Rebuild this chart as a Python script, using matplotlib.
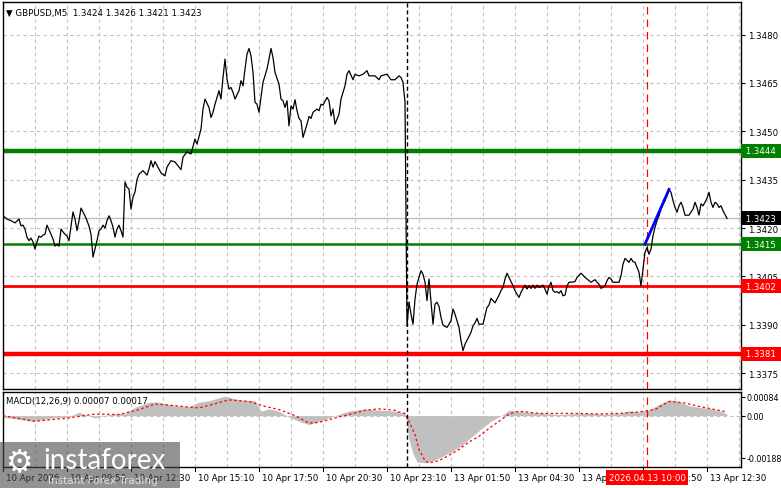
import matplotlib
matplotlib.use("Agg")
import matplotlib.pyplot as plt
import matplotlib.transforms as mtransforms
from matplotlib.patches import Rectangle

plt.rcParams['font.family'] = ['DejaVu Sans']

# M5 bars, counted from 10 Apr 07:10 (bar 0)
bars = [0, 2, 4, 6, 8, 9, 10, 11, 12, 13, 14, 15, 16, 17, 18, 19, 20, 21, 22, 24,
        25, 26, 27, 28, 29, 30, 31, 32, 33, 34, 35, 36, 37, 38, 39, 40, 41, 42, 43, 44,
        45, 46, 47, 48, 49, 50, 51, 52, 53, 54, 55, 56, 57, 58, 59, 60, 61, 62, 63, 64,
        65, 66, 67, 68, 70, 72, 73, 74, 75, 76, 78, 79, 81, 82, 84, 86, 88, 89, 90, 92,
        94, 96, 97, 99, 100, 101, 103, 104, 105, 106, 108, 109, 110, 111, 112, 113, 114, 115, 116, 118,
        119, 120, 121, 122, 123, 124, 125, 126, 127, 128, 129, 130, 132, 133, 134, 135, 136, 138, 139, 140,
        141, 142, 143, 144, 145, 146, 147, 148, 149, 150, 152, 153, 154, 155, 157, 158, 159, 160, 162, 163,
        164, 165, 166, 168, 169, 171, 172, 173, 175, 176, 178, 180, 182, 183, 186, 188, 189, 192, 194, 196,
        198, 199, 200, 201, 202, 203, 204, 205, 206, 207, 208, 209, 210, 211, 212, 213, 214, 215, 216, 217,
        218, 219, 220, 222, 223, 224, 225, 226, 228, 229, 230, 231, 233, 234, 235, 236, 237, 238, 240, 241,
        242, 243, 244, 246, 247, 248, 249, 250, 251, 252, 253, 255, 256, 257, 258, 259, 261, 262, 263, 264,
        265, 266, 267, 268, 270, 271, 272, 273, 274, 275, 276, 277, 278, 279, 280, 281, 282, 283, 284, 286,
        287, 289, 290, 291, 293, 294, 296, 297, 298, 299, 301, 302, 303, 304, 305, 306, 308, 309, 310, 311,
        313, 314, 315, 316, 318, 319, 320, 321, 322, 323, 324, 325, 326, 327, 328, 329, 330, 331, 332, 333,
        334, 335, 336, 337, 338, 339, 340, 341, 342, 343, 345, 346, 347, 348, 349, 350, 351, 352, 353, 354,
        355, 356, 357, 358, 359, 360, 362]
close = [1.34238, 1.34228, 1.34223, 1.34216, 1.34228, 1.34207, 1.34209, 1.34197, 1.34172, 1.34161,
         1.34169, 1.34157, 1.34135, 1.34157, 1.34175, 1.34172, 1.34178, 1.34181, 1.34209, 1.34181,
         1.34166, 1.34144, 1.34150, 1.34144, 1.34197, 1.34188, 1.34181, 1.34175, 1.34161, 1.34206,
         1.34250, 1.34228, 1.34192, 1.34223, 1.34262, 1.34250, 1.34238, 1.34223, 1.34206, 1.34181,
         1.34110, 1.34135, 1.34161, 1.34192, 1.34197, 1.34209, 1.34200, 1.34223, 1.34238, 1.34223,
         1.34203, 1.34172, 1.34197, 1.34209, 1.34192, 1.34172, 1.34343, 1.34327, 1.34321, 1.34259,
         1.34296, 1.34312, 1.34350, 1.34367, 1.34378, 1.34364, 1.34383, 1.34409, 1.34389, 1.34406,
         1.34383, 1.34371, 1.34362, 1.34389, 1.34409, 1.34405, 1.34389, 1.34381, 1.34420, 1.34436,
         1.34430, 1.34476, 1.34460, 1.34507, 1.34569, 1.34600, 1.34574, 1.34543, 1.34559, 1.34584,
         1.34626, 1.34600, 1.34667, 1.34724, 1.34662, 1.34631, 1.34636, 1.34621, 1.34600, 1.34626,
         1.34657, 1.34641, 1.34693, 1.34739, 1.34757, 1.34734, 1.34683, 1.34590, 1.34584, 1.34559,
         1.34605, 1.34652, 1.34693, 1.34724, 1.34757, 1.34729, 1.34683, 1.34646, 1.34600, 1.34595,
         1.34574, 1.34595, 1.34517, 1.34579, 1.34569, 1.34598, 1.34564, 1.34540, 1.34533, 1.34481,
         1.34522, 1.34546, 1.34540, 1.34559, 1.34569, 1.34564, 1.34584, 1.34581, 1.34605, 1.34595,
         1.34548, 1.34569, 1.34522, 1.34553, 1.34600, 1.34641, 1.34677, 1.34688, 1.34660, 1.34677,
         1.34672, 1.34677, 1.34688, 1.34672, 1.34672, 1.34660, 1.34672, 1.34677, 1.34660, 1.34660,
         1.34672, 1.34667, 1.34652, 1.34590, 1.33897, 1.33971, 1.33933, 1.33902, 1.33980, 1.34026,
         1.34047, 1.34068, 1.34057, 1.34032, 1.33975, 1.34042, 1.33970, 1.33902, 1.33964, 1.33970,
         1.33957, 1.33923, 1.33899, 1.33892, 1.33902, 1.33913, 1.33949, 1.33933, 1.33892, 1.33851,
         1.33820, 1.33840, 1.33864, 1.33877, 1.33897, 1.33906, 1.33920, 1.33902, 1.33902, 1.33928,
         1.33954, 1.33961, 1.33982, 1.33968, 1.33980, 1.33992, 1.34006, 1.34016, 1.34042, 1.34060,
         1.34047, 1.34021, 1.34006, 1.33995, 1.33985, 1.34001, 1.34023, 1.34011, 1.34021, 1.34013,
         1.34023, 1.34013, 1.34023, 1.34016, 1.34023, 1.34011, 1.33995, 1.34019, 1.34032, 1.34006,
         1.34001, 1.34003, 1.33998, 1.34006, 1.33990, 1.33992, 1.34021, 1.34032, 1.34032, 1.34034,
         1.34047, 1.34060, 1.34054, 1.34047, 1.34037, 1.34032, 1.34040, 1.34032, 1.34026, 1.34013,
         1.34021, 1.34037, 1.34047, 1.34042, 1.34032, 1.34032, 1.34032, 1.34052, 1.34088, 1.34106,
         1.34094, 1.34106, 1.34096, 1.34094, 1.34063, 1.34021, 1.34073, 1.34125, 1.34140, 1.34119,
         1.34135, 1.34176, 1.34202, 1.34223, 1.34238, 1.34259, 1.34274, 1.34285, 1.34300, 1.34319,
         1.34311, 1.34285, 1.34264, 1.34249, 1.34269, 1.34280, 1.34264, 1.34240, 1.34240, 1.34240,
         1.34259, 1.34280, 1.34264, 1.34240, 1.34275, 1.34269, 1.34280, 1.34292, 1.34311, 1.34280,
         1.34264, 1.34280, 1.34275, 1.34264, 1.34269, 1.34254, 1.34230]

# MACD(12,26,9) main (histogram) and signal
macd_bars = [0, 15, 25, 33, 38, 46, 53, 61, 66, 73, 78, 86, 93, 98, 103, 111, 118, 126, 129, 133,
             138, 143, 148, 153, 158, 166, 173, 181, 188, 196, 201, 202, 203, 205, 207, 211, 215, 219, 224, 229,
             234, 239, 244, 248, 251, 253, 257, 263, 271, 278, 286, 293, 301, 308, 313, 318, 323, 328, 333, 337,
             343, 348, 354, 359, 362]
macd_main = [-0.00007, -0.00025, -0.0001, -0.00005, 0.00015, -0.0001, 0.00005, 0.0001, 0.00037, 0.0006,
             0.0006, 0.00044, 0.0004, 0.0006, 0.00066, 0.00087, 0.0007, 0.00066, 0.0002, 0.0003,
             0.0002, -0.00007, -0.00025, -0.0004, -0.00025, 0.0, 0.0002, 0.0003, 0.00025, 0.0002,
             0.0001, -0.00045, -0.00107, -0.0017, -0.00205, -0.0021, -0.002, -0.00185, -0.0016, -0.00135,
             -0.00096, -0.0006, -0.00025, -0.00005, 0.0001, 0.00025, 0.0002, 0.00015, 0.0001, 0.00005,
             0.00009, 0.0001, 0.00007, 0.0001, 0.00022, 0.00016, 0.00025, 0.0005, 0.0007, 0.00066,
             0.00044, 0.00037, 0.0003, 0.0002, 0.00007]
sig_bars = [0, 16, 33, 46, 58, 68, 76, 86, 98, 106, 113, 123, 131, 138, 146, 153, 158, 166, 173, 181,
            188, 196, 198, 201, 203, 206, 208, 211, 213, 218, 223, 228, 233, 238, 243, 248, 253, 258, 268, 278,
            288, 298, 308, 318, 326, 333, 341, 348, 356, 362]
macd_signal = [0.0, -0.00025, -0.0001, 0.00007, 0.00005, 0.00027, 0.00052, 0.00044, 0.00034, 0.00053,
               0.0007, 0.00063, 0.00041, 0.00027, 0.0, -0.00033, -0.0003, -0.0001, 0.00005, 0.00024,
               0.0003, 0.00024, 0.00016, 0.0001, -0.00025, -0.00084, -0.0015, -0.002, -0.0021, -0.002,
               -0.00176, -0.0015, -0.00117, -0.00092, -0.00057, -0.00025, 0.00007, 0.0002, 0.0001, 0.0001,
               0.0001, 0.00007, 0.0001, 0.00016, 0.00027, 0.00063, 0.00056, 0.00041, 0.00027, 0.00017]

price_ticks = [1.3480, 1.3465, 1.3450, 1.3435, 1.3420, 1.3405, 1.3390, 1.3375]
time_tick_bars = [0, 32, 64, 96, 128, 160, 192, 224, 256, 288, 320, 352]
time_labels = ["10 Apr 2026", "10 Apr 09:50", "10 Apr 12:30", "10 Apr 15:10", "10 Apr 17:50",
               "10 Apr 20:30", "10 Apr 23:10", "13 Apr 01:50", "13 Apr 04:30", "13 Apr 07:10",
               "13 Apr 09:50", "13 Apr 12:30"]

levels_green = [1.3444, 1.3415]
levels_red = [1.3402, 1.3381]
last_price = 1.3423
week_start_bar = 202
signal_bar = 322
signal_label = "2026.04.13 10:00"
arrow_bars = [321, 333]
arrow_prices = [1.3415, 1.3432]

FS = 6.2
W, H = 781, 489
fig = plt.figure(figsize=(W / 100, H / 100), dpi=100)
ax = fig.add_axes([3 / W, 99 / H, 738 / W, 387 / H])
axm = fig.add_axes([3 / W, 21 / H, 738 / W, 75 / H])

grid_kw = dict(color="#c0c0c0", lw=0.8, ls=(0, (3, 3)), zorder=0)
for a in (ax, axm):
    a.set_xlim(0, 369)
    for b in range(16, 369, 16):
        a.axvline(b, **grid_kw)
    for s in a.spines.values():
        s.set_color("black")
        s.set_linewidth(1)
    a.yaxis.tick_right()
    a.tick_params(axis="y", length=3, width=0.8, labelsize=FS, pad=2, colors="black")
    a.tick_params(axis="x", length=0, labelbottom=False)

# main price panel
ax.set_ylim(1.33701, 1.34901)
ax.set_yticks(price_ticks)
ax.set_yticklabels([f"{p:.4f}" for p in price_ticks])
for p in price_ticks:
    ax.axhline(p, **grid_kw)
ax.axhline(last_price, color="#c0c0c0", lw=1, zorder=1)
ax.axhline(levels_green[0], color="#008000", lw=3.2, zorder=2)
ax.axhline(levels_green[1], color="#008000", lw=1.8, zorder=2)
ax.axhline(levels_red[0], color="#ff0000", lw=2, zorder=2)
ax.axhline(levels_red[1], color="#ff0000", lw=3.2, zorder=2)
ax.axvline(week_start_bar, color="black", lw=1, ls=(0, (3, 2)), zorder=3)
ax.axvline(signal_bar, color="#ff0000", lw=0.9, ls=(0, (6, 4)), zorder=3)
ax.plot(bars, close, color="black", lw=0.9, zorder=4)
ax.plot(arrow_bars, arrow_prices, color="#0000ff", lw=2, zorder=5)

trans = mtransforms.blended_transform_factory(ax.transAxes, ax.transData)
tags = [(levels_green[0], "#008000"), (last_price, "black"), (levels_green[1], "#008000"),
        (levels_red[0], "#ff0000"), (levels_red[1], "#ff0000")]
for lvl, col in tags:
    ax.text(1.003, lvl, f" {lvl:.4f} ", transform=trans, color="white", fontsize=FS,
            va="center", ha="left", zorder=10, clip_on=False,
            bbox=dict(boxstyle="square,pad=0.3", fc=col, ec="none"))

ax.text(0.004, 0.985, "\u25bc GBPUSD,M5  1.3424 1.3426 1.3421 1.3423", transform=ax.transAxes,
        fontsize=FS, va="top", ha="left", color="black")

# MACD panel
axm.set_ylim(-0.00228, 0.00105)
axm.set_yticks([0.00084, 0.0, -0.00188])
axm.set_yticklabels(["0.00084", "0.00", "-0.00188"])
axm.tick_params(axis="y", labelsize=5.8, pad=1)
axm.axhline(0, **grid_kw)
axm.fill_between(macd_bars, macd_main, 0, color="#c0c0c0", lw=0, zorder=1)
axm.plot(sig_bars, macd_signal, color="#ff0000", lw=0.9, ls=(0, (2, 2)), zorder=3)
axm.axvline(week_start_bar, color="black", lw=1, ls=(0, (3, 2)), zorder=3)
axm.axvline(signal_bar, color="#ff0000", lw=0.9, ls=(0, (6, 4)), zorder=3)
axm.text(0.004, 0.95, "MACD(12,26,9) 0.00007 0.00017", transform=axm.transAxes,
         fontsize=FS, va="top", ha="left", color="black")

# time axis
tt = mtransforms.blended_transform_factory(axm.transData, axm.transAxes)
for b, lab in zip(time_tick_bars, time_labels):
    axm.plot([b, b], [0, -0.05], transform=tt, color="black", lw=0.8, clip_on=False)
    axm.text(b + 1.5, -0.08, lab, transform=tt, fontsize=FS, va="top", ha="left", clip_on=False)
axm.text(signal_bar, -0.08, signal_label, transform=tt, fontsize=FS, va="top", ha="center",
         color="white", clip_on=False, zorder=10,
         bbox=dict(boxstyle="square,pad=0.3", fc="#ff0000", ec="none"))

# watermark
fig.patches.append(Rectangle((0, 0), 180 / W, 46 / H, transform=fig.transFigure,
                             fc="#4a4a4a", ec="none", alpha=0.6, zorder=20))
fig.text(5 / W, 25 / H, "\u2699", color="white", fontsize=22, va="center", ha="left", zorder=21)
fig.text(43 / W, 28 / H, "instaforex", color="white", fontsize=20, va="center", ha="left",
         zorder=21, family=["Lato", "DejaVu Sans"])
fig.text(48 / W, 8 / H, "Instant Forex Trading", color="#e0e0e0", fontsize=7.5, va="center",
         ha="left", zorder=21)

fig.savefig("out.png", dpi=100)
